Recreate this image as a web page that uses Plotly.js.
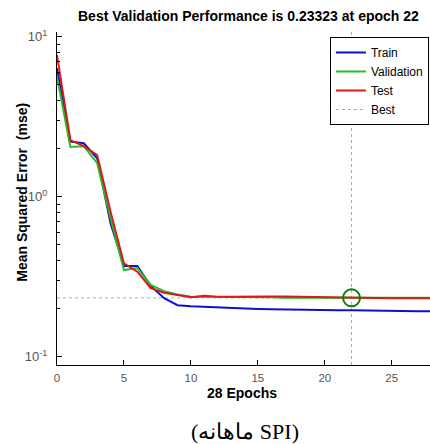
<!DOCTYPE html>
<html>
<head>
<meta charset="utf-8">
<script src="https://cdn.plot.ly/plotly-3.0.1.min.js"></script>
<style>html,body{margin:0;padding:0;background:#fff;}#chart{width:430px;height:444px;}</style>
</head>
<body>
<div id="chart"></div>
<script>
// ---- data ----
const epochs = [0,1,2,3,4,5,6,7,8,9,10,11,12,13,14,15,16,17,18,19,20,21,22,23,24,25,26,27,28];
const trainPerf = [6.35,2.21,2.16,1.74,0.682,0.369,0.369,0.277,0.232,0.210,0.207,0.205,0.203,0.201,0.200,0.199,0.198,0.197,0.197,0.196,0.196,0.195,0.195,0.194,0.194,0.193,0.193,0.192,0.192];
const validPerf = [5.62,2.05,2.07,1.62,0.733,0.348,0.358,0.281,0.257,0.245,0.237,0.237,0.236,0.236,0.235,0.235,0.235,0.234,0.234,0.234,0.2335,0.2334,0.23323,0.2333,0.2334,0.2334,0.2335,0.2335,0.2336];
const testPerf  = [7.69,2.26,2.07,1.82,0.806,0.383,0.340,0.268,0.251,0.242,0.235,0.240,0.237,0.237,0.238,0.238,0.238,0.238,0.237,0.237,0.236,0.235,0.233,0.232,0.232,0.232,0.232,0.232,0.232];
const bestEpoch = 22;
const bestPerf = 0.23323;
const seriesNames = ["Train","Validation","Test","Best"];
const xTickVals = [0,5,10,15,20,25];
const yTickVals = [0.1,1,10];
const yTickText = ["10<sup>-1</sup>","10<sup>0</sup>","10<sup>1</sup>"];
const titleText = "Best Validation Performance is " + bestPerf + " at epoch " + bestEpoch;
const xTitle = "28 Epochs";
const yTitle = "Mean Squared Error  (mse)";
const caption = "(ماهانه SPI)";

// minor log ticks at 2..9 of each decade shown
const minorVals = [];
[0.1, 1].forEach(function(d){ for (let k = 2; k <= 9; k++) minorVals.push(k * d); });

const sans = "Liberation Sans, Arial";
const bestColor = "#8fb4b4";

const traces = [
  {x:epochs, y:trainPerf, name:seriesNames[0], mode:"lines", line:{color:"#1010c8", width:2}},
  {x:epochs, y:validPerf, name:seriesNames[1], mode:"lines", line:{color:"#22c022", width:2}},
  {x:epochs, y:testPerf, name:seriesNames[2], mode:"lines", line:{color:"#dd1818", width:2}},
  {x:[null], y:[null], name:seriesNames[3], mode:"lines", line:{color:bestColor, width:1, dash:"dot"}},
  {x:[bestEpoch], y:[bestPerf], mode:"markers", showlegend:false,
   marker:{symbol:"circle-open", size:17, color:"#0a7a0a", line:{width:2, color:"#0a7a0a"}}}
];

const layout = {
  width:430, height:444,
  margin:{l:57, r:0, t:32, b:79},
  paper_bgcolor:"#fff", plot_bgcolor:"#fff",
  showlegend:true,
  font:{family:sans, color:"#000"},
  legend:{x:0.997, xanchor:"right", y:0.985, yanchor:"top", bgcolor:"#fff",
    bordercolor:"#000", borderwidth:1, font:{family:sans, size:12, color:"#000"},
    tracegroupgap:0, itemwidth:30},
  xaxis:{range:[0,27.86], tickvals:xTickVals, ticks:"inside", ticklen:5, tickcolor:"#000",
    showline:true, linecolor:"#000", linewidth:1, showgrid:false, zeroline:false, automargin:false,
    ticklabelstandoff:2,
    tickfont:{family:sans, size:11.5, color:"#555"}},
  yaxis:{type:"log", range:[-1.052,1.03], tickvals:yTickVals, ticktext:yTickText, ticks:"inside", ticklen:5,
    tickcolor:"#000", showline:true, linecolor:"#000", linewidth:1, showgrid:false, zeroline:false, automargin:false,
    ticklabelstandoff:6,
    tickfont:{family:sans, size:13, color:"#555"},
    minor:{tickvals:minorVals, ticks:"inside", ticklen:3, tickcolor:"#000", showgrid:false}},
  shapes:[
    {type:"line", xref:"x", yref:"paper", x0:bestEpoch, x1:bestEpoch, y0:0, y1:1, line:{color:bestColor, width:1, dash:"dot"}, layer:"below"},
    {type:"line", xref:"paper", yref:"y", x0:0, x1:1, y0:bestPerf, y1:bestPerf, line:{color:bestColor, width:1, dash:"dot"}, layer:"below"}
  ],
  annotations:[
    {text:"<b>"+titleText+"</b>", xref:"paper", yref:"paper", x:0.513, y:1.048, xanchor:"center", yanchor:"middle", showarrow:false,
     font:{size:14, color:"#000"}},
    {text:"<b>"+xTitle+"</b>", xref:"paper", yref:"paper", x:0.497, y:-0.084, xanchor:"center", yanchor:"middle", showarrow:false,
     font:{size:14, color:"#000"}},
    {text:"<b>"+yTitle+"</b>", xref:"paper", yref:"paper", x:-0.094, y:0.52, xanchor:"center", yanchor:"middle", textangle:-90, showarrow:false,
     font:{size:14, color:"#000"}},
    {text:caption, xref:"paper", yref:"paper", x:0.505, y:-0.20, xanchor:"center", yanchor:"middle", showarrow:false,
     font:{family:"Liberation Serif, Times New Roman, serif", size:22, color:"#000"}}
  ]
};

Plotly.newPlot("chart", traces, layout, {displayModeBar:false, staticPlot:true});
</script>
</body>
</html>
